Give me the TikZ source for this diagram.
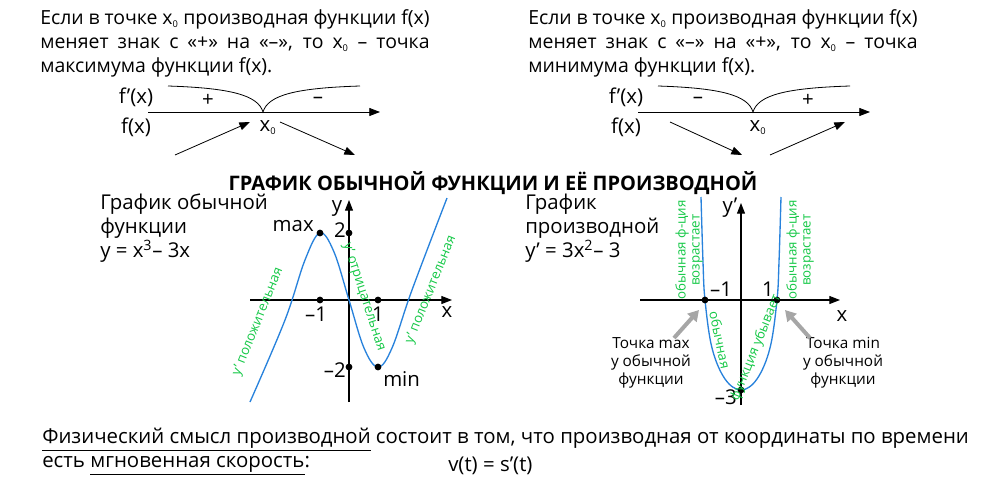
\documentclass[tikz,border=0pt]{standalone}
\usepackage{fontspec}
\setmainfont{Open Sans}
\usetikzlibrary{arrows.meta}
\definecolor{grn}{RGB}{20,200,70}
\definecolor{crv}{RGB}{40,130,220}
\tikzset{
  txt/.style={font=\fontsize{15.3}{18}\selectfont, inner sep=0pt},
  para/.style={txt, font=\fontsize{14.6}{18}\selectfont, anchor=north west, text width=292pt, align=justify},
  small/.style={font=\fontsize{11.5}{13.5}\selectfont, inner sep=0pt, align=center},
  glab/.style={font=\fontsize{10}{10.5}\selectfont, text=grn, inner sep=0pt, align=center},
  ax/.style={line width=0.8pt, -{Triangle[length=8pt,width=6pt]}},
  sgn/.style={line width=0.6pt, -{Triangle[length=8pt,width=6pt]}},
  dot/.style={circle, fill, inner sep=1.8pt},
  garr/.style={gray!70, line width=3pt, -{Triangle[length=8pt,width=9pt]}},
}
\newcommand{\xo}{x\textsubscript{\scriptsize 0}}
\begin{document}
\begin{tikzpicture}[x=0.75pt, y=-0.75pt]
\useasboundingbox (0,0) rectangle (1000,493);

% top statements
\node[para] (tl) at (40,9) {Если в точке \xo{} производная функции f(x)\linebreak меняет знак с «+» на «–», то \xo{} – точка\linebreak максимума функции f(x).};
\node[para] (tr) at (528,9) {Если в точке \xo{} производная функции f(x)\linebreak меняет знак с «–» на «+», то \xo{} – точка\linebreak минимума функции f(x).};

% sign diagrams
\foreach \dx/\sa/\sb/\id in {0/+/–/L, 490/–/+/R}{
  \begin{scope}[xshift=\dx*0.75pt]
    \coordinate (a\id) at (148,112);
    \coordinate (b\id) at (380,112);
    \coordinate (p\id) at (263,112);
    \draw[sgn] (a\id) -- (b\id);
    \draw[line width=0.6pt] (168,86) .. controls (230,88) and (258,95) .. (p\id)
                       .. controls (268,95) and (296,88) .. (360,86);
    \node[txt] (s1\id) at (208,100) {\sa};
    \node[txt] (s2\id) at (318,100) {\sb};
    \node[txt] (fd\id) at (136,97) {f’(x)};
    \node[txt] (f\id) at (136,127) {f(x)};
    \node[txt] (x\id) at (268,128) {\xo};
  \end{scope}
}
\coordinate (l1) at (175,155); \coordinate (l2) at (250,122);
\coordinate (l3) at (280,122); \coordinate (l4) at (355,155);
\draw[sgn] (l1) -- (l2);
\draw[sgn] (l3) -- (l4);
\coordinate (r1) at (670,122); \coordinate (r2) at (742,155);
\coordinate (r3) at (770,155); \coordinate (r4) at (845,122);
\draw[sgn] (r1) -- (r2);
\draw[sgn] (r3) -- (r4);

% title
\node[txt, font=\fontsize{15}{18}\bfseries] (title) at (493,183) {ГРАФИК ОБЫЧНОЙ ФУНКЦИИ И ЕЁ ПРОИЗВОДНОЙ};

% left graph
\node[txt, anchor=north west, align=left] (lt) at (100,194) {График обычной\\функции\\y = x\textsuperscript{3}– 3x};
\coordinate (xa) at (250,300); \coordinate (xb) at (452,300);
\coordinate (ya) at (349,402); \coordinate (yb) at (349,200);
\draw[ax] (xa) -- (xb);
\draw[ax] (ya) -- (yb);
\draw[crv, line width=1pt] plot[smooth, tension=0.6] coordinates {(250,402) (285,320) (305,260) (320,233) (334,252) (349,300) (364,348) (378,367) (392,348) (412,290) (447,198)};
\node[dot] (m1) at (320,300) {};
\node[dot] (p1) at (378,300) {};
\node[dot] (y2) at (349,233) {};
\node[dot] (ym2) at (349,367) {};
\node[dot] (mx) at (320,233) {};
\node[dot] (mn) at (378,367) {};
\node[txt] at (316,314) {–1};
\node[txt] at (378,314) {1};
\node[txt, anchor=east] at (346,230) {2};
\node[txt, anchor=east] at (346,370) {–2};
\node[txt, anchor=east] at (314,226) {max};
\node[txt, anchor=west] at (383,379) {min};
\node[txt] at (337,208) {y};
\node[txt] at (447,312) {x};
\node[glab, rotate=68] at (258,322) {y’ положительная};
\node[glab, rotate=-72] at (364,297) {y’ отрицательная};
\node[glab, rotate=68] at (431,290) {y’ положительная};

% right graph
\node[txt, anchor=north west, align=left] (rt) at (525,194) {График\\производной\\y’ = 3x\textsuperscript{2}– 3};
\coordinate (ua) at (640,300); \coordinate (ub) at (840,300);
\coordinate (va) at (741,405); \coordinate (vb) at (741,203);
\draw[ax] (ua) -- (ub);
\draw[ax] (va) -- (vb);
\draw[crv, line width=1pt] plot[smooth, tension=0.6] coordinates {(701,197) (703,262) (705,300) (712,348) (725,379) (741,390) (757,379) (770,348) (777,300) (779,262) (781,197)};
\node[dot] (q1) at (705,300) {};
\node[dot] (q2) at (777,300) {};
\node[dot] (q3) at (741,390) {};
\node[txt] at (721,289) {–1};
\node[txt] at (768,289) {1};
\node[txt, anchor=east] at (737,397) {–3};
\node[txt] at (730,208) {y’};
\node[txt] at (842,316) {x};
\node[glab, rotate=90] at (689,250) {обычная ф-ция\\возрастает};
\node[glab, rotate=90] at (800,250) {обычная ф-ция\\возрастает};
\node[glab, rotate=-78] at (720,340) {обычная};
\node[glab, rotate=68] at (756,348) {функция убывает};
\node[small] (tmax) at (651,363) {Точка max\\у обычной\\функции};
\node[small] (tmin) at (843,363) {Точка min\\у обычной\\функции};
\coordinate (g1) at (674,338); \coordinate (g2) at (699,310);
\coordinate (g3) at (810,338); \coordinate (g4) at (785,310);
\draw[garr] (g1) -- (g2);
\draw[garr] (g3) -- (g4);

% bottom
\node[txt, anchor=west] (b1) at (42,440) {\underline{Физический смысл производной} состоит в том, что производная от координаты по времени};
\node[txt, anchor=west] (b2) at (42,466) {есть \underline{мгновенная скорость}:};
\node[txt, anchor=west] (b3) at (448,466) {v(t) = s’(t)};
\end{tikzpicture}
\end{document}
